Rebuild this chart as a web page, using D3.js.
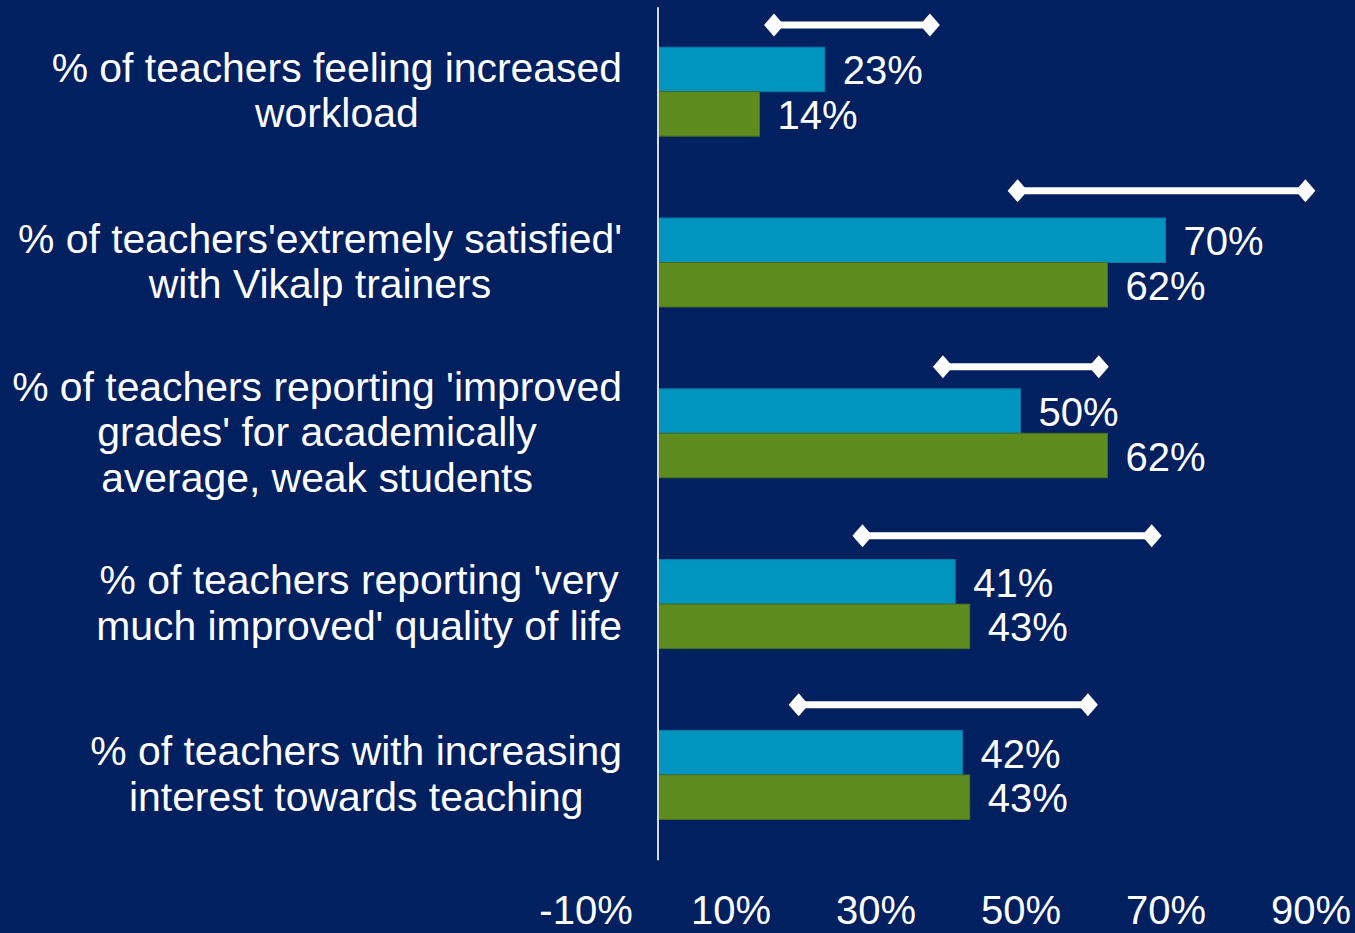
<!DOCTYPE html>
<html>
<head>
<meta charset="utf-8">
<script src="https://cdn.jsdelivr.net/npm/d3@7"></script>
<style>
  html, body { margin: 0; padding: 0; background: #002060; overflow: hidden; }
  svg { display: block; }
</style>
</head>
<body>
<svg id="chart" width="1355" height="933"></svg>
<script>
// ---- data ----
const categories = [
  ["% of teachers feeling increased", "workload"],
  ["% of teachers'extremely satisfied'", "with Vikalp trainers"],
  ["% of teachers reporting 'improved", "grades' for academically", "average, weak students"],
  ["% of teachers reporting 'very", "much improved' quality of life"],
  ["% of teachers with increasing", "interest towards teaching"]
];
const seriesBlue  = [23, 70, 50, 41, 42];
const seriesGreen = [14, 62, 62, 43, 43];
const rangeLow  = [16.0, 49.6, 39.3, 28.2, 19.4];
const rangeHigh = [37.5, 89.3, 60.8, 68.1, 59.3];
const rangeRow  = [4.89, 3.92, 2.89, 1.90, 0.91];
const xTicks = [-10, 10, 30, 50, 70, 90];

// ---- setup ----
const W = 1355, H = 933;
const BG = "#002060", BLUE = "#0095BF", GREEN = "#5E8C1E";
const FONT = "'Liberation Sans', Arial, sans-serif";
const svg = d3.select("#chart");
svg.append("rect").attr("width", W).attr("height", H).attr("fill", BG);

const plotTop = 6.3, plotBottom = 860.3;
const x = d3.scaleLinear().domain([-10, 90]).range([585.5, 1310.5]);
const y = d3.scaleBand().domain(d3.range(categories.length))
  .range([plotTop, plotBottom]).paddingInner(0.479).paddingOuter(0.2395);
const ySub = d3.scaleBand().domain(["blue", "green"]).range([0, y.bandwidth()]);
const y2 = d3.scaleLinear().domain([0, 5]).range([plotBottom, plotTop]);

// bars
const rows = categories.map((c, i) => ({i, blue: seriesBlue[i], green: seriesGreen[i]}));
const g = svg.append("g");
[["blue", BLUE, "#0a7aa6"], ["green", GREEN, "#47701c"]].forEach(([key, fill, stroke]) => {
  g.selectAll("rect." + key).data(rows).join("rect")
    .attr("class", key)
    .attr("x", x(0))
    .attr("y", d => y(d.i) + ySub(key))
    .attr("width", d => x(d[key]) - x(0))
    .attr("height", ySub.bandwidth())
    .attr("fill", fill)
    .attr("stroke", stroke).attr("stroke-width", 1);
  g.selectAll("text." + key).data(rows).join("text")
    .attr("class", key)
    .attr("x", d => x(d[key]) + 18)
    .attr("y", d => y(d.i) + ySub(key) + ySub.bandwidth() / 2 + 15)
    .attr("fill", "#fff")
    .attr("font-family", FONT)
    .attr("font-size", 40)
    .text(d => d[key] + "%");
});

// zero axis line
svg.append("line")
  .attr("x1", x(0)).attr("x2", x(0))
  .attr("y1", plotTop + 1).attr("y2", plotBottom)
  .attr("stroke", "#d9d9d9").attr("stroke-width", 2);

// range markers
const ranges = categories.map((c, i) => ({lo: rangeLow[i], hi: rangeHigh[i], r: rangeRow[i]}));
const rg = svg.append("g");
rg.selectAll("line").data(ranges).join("line")
  .attr("x1", d => x(d.lo)).attr("x2", d => x(d.hi))
  .attr("y1", d => y2(d.r)).attr("y2", d => y2(d.r))
  .attr("stroke", "#fff").attr("stroke-width", 7);
const diamond = "M0,-11.5L10,0L0,11.5L-10,0Z";
const ends = ranges.flatMap(d => [{v: d.lo, r: d.r}, {v: d.hi, r: d.r}]);
rg.selectAll("path").data(ends).join("path")
  .attr("d", diamond)
  .attr("transform", d => `translate(${x(d.v)},${y2(d.r)})`)
  .attr("fill", "#fff");

// category labels
const lab = svg.append("g").attr("font-family", FONT).attr("fill", "#fff");
// fit font size so the widest line spans ~610px
const probe = lab.append("text").attr("font-size", 100).text(categories[2][0]);
const wProbe = probe.node().getComputedTextLength();
probe.remove();
const catSize = 100 * 610 / wProbe;
const lineH = 45.5;
categories.forEach((lines, i) => {
  const t = lab.append("text").attr("font-size", catSize).attr("text-anchor", "middle");
  const cy = y(i) + y.bandwidth() / 2;
  const spans = lines.map((ln, k) => t.append("tspan")
    .attr("y", cy + (k - (lines.length - 1) / 2) * lineH + 13)
    .text(ln));
  const maxW = d3.max(spans, s => s.node().getComputedTextLength());
  spans.forEach(s => s.attr("x", 622 - maxW / 2));
});

// x axis tick labels
const ax = svg.append("g").attr("transform", "translate(0,924)")
  .call(d3.axisBottom(x).tickValues(xTicks).tickFormat(d => d + "%").tickSize(0));
ax.select(".domain").remove();
ax.selectAll("text")
  .attr("y", 0).attr("dy", 0)
  .attr("fill", "#fff")
  .attr("font-family", FONT)
  .attr("font-size", 40);
</script>
</body>
</html>
